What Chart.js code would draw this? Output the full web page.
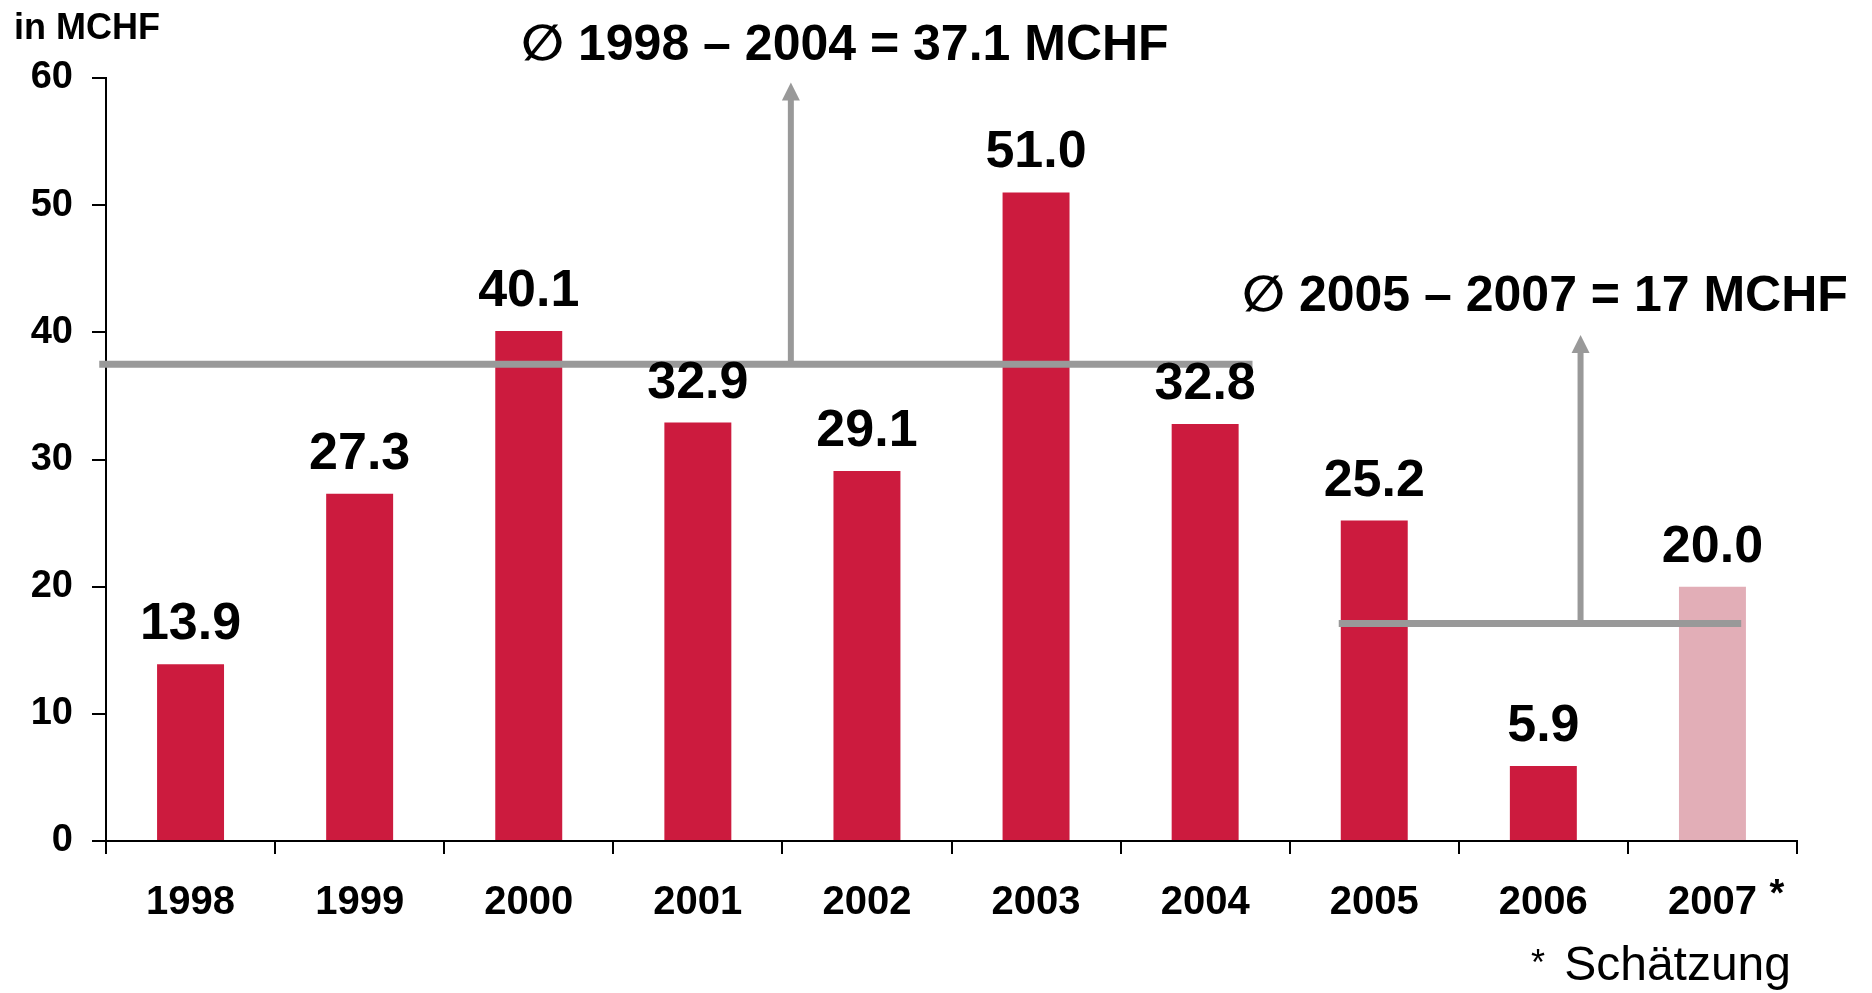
<!DOCTYPE html>
<html>
<head>
<meta charset="utf-8">
<script src="https://cdn.jsdelivr.net/npm/chart.js@4/dist/chart.umd.min.js"></script>
<style>
  html, body { margin: 0; padding: 0; background: #fff; }
  #c { display: block; }
</style>
</head>
<body>
<canvas id="c" width="1872" height="993"></canvas>
<script>
// ---- data ----
const categories = ['1998', '1999', '2000', '2001', '2002', '2003', '2004', '2005', '2006', '2007'];
const values = [13.9, 27.3, 40.1, 32.9, 29.1, 51.0, 32.8, 25.2, 5.9, 20.0];
const estimated = [false, false, false, false, false, false, false, false, false, true];
const yTicks = [0, 10, 20, 30, 40, 50, 60];
const avgLevels = [37.5, 17.1];
const avgLabels = ['\u2205 1998 \u2013 2004 = 37.1 MCHF', '\u2205 2005 \u2013 2007 = 17 MCHF'];
const unitLabel = 'in MCHF';
const footnote = 'Schätzung';

const FONT = '"Liberation Sans", Arial, "DejaVu Sans", sans-serif';
const RED = '#CC1B3E';
const PINK = '#E2AEB7';
const GRAY = '#999999';

// annotation geometry (in category-index / value units)
const avgGeom = [
  { from: -0.54, to: 6.28, arrowAt: 3.55, tip: 59.65, textAt: 3.87, textBase: 61.4 },
  { from: 6.79, to: 9.17, arrowAt: 8.22, tip: 39.8, textAt: 8.01, textBase: 41.7 }
];

const annotPlugin = {
  id: 'annot',
  afterDatasetsDraw(chart) {
    const { ctx, scales: { x, y }, chartArea } = chart;
    ctx.save();

    // average lines + arrows
    avgLevels.forEach((lvl, i) => {
      const g = avgGeom[i];
      const ly = y.getPixelForValue(lvl);
      const ax = x.getPixelForValue(g.arrowAt);
      const tipY = y.getPixelForValue(g.tip);
      ctx.strokeStyle = GRAY;
      ctx.fillStyle = GRAY;
      ctx.lineCap = 'butt';
      ctx.lineWidth = 6;
      ctx.beginPath();
      ctx.moveTo(ax, ly);
      ctx.lineTo(ax, tipY + 17);
      ctx.stroke();
      ctx.beginPath();
      ctx.moveTo(ax, tipY);
      ctx.lineTo(ax - 9, tipY + 18);
      ctx.lineTo(ax + 9, tipY + 18);
      ctx.closePath();
      ctx.fill();
      ctx.lineWidth = 7;
      ctx.beginPath();
      ctx.moveTo(x.getPixelForValue(g.from), ly);
      ctx.lineTo(x.getPixelForValue(g.to), ly);
      ctx.stroke();
      ctx.fillStyle = '#000';
      ctx.font = 'bold 50px ' + FONT;
      ctx.textAlign = 'center';
      ctx.textBaseline = 'alphabetic';
      ctx.fillText(avgLabels[i], x.getPixelForValue(g.textAt), y.getPixelForValue(g.textBase));
    });

    // value labels
    const meta = chart.getDatasetMeta(0);
    ctx.fillStyle = '#000';
    ctx.font = 'bold 52px ' + FONT;
    ctx.textAlign = 'center';
    ctx.textBaseline = 'alphabetic';
    meta.data.forEach((bar, i) => {
      ctx.fillText(values[i].toFixed(1), bar.x, bar.y - 25);
    });

    // unit label
    ctx.font = 'bold 36px ' + FONT;
    ctx.textAlign = 'left';
    ctx.fillText(unitLabel, 14, 39);

    // asterisk on estimated category
    estimated.forEach((e, i) => {
      if (!e) return;
      ctx.font = 'bold 38px ' + FONT;
      ctx.textAlign = 'left';
      ctx.fillText('*', x.getPixelForValue(i) + 57, 906);
    });

    // footnote
    const r = chartArea.right;
    ctx.font = '36px ' + FONT;
    ctx.textAlign = 'left';
    ctx.fillText('*', r - 266, 975);
    ctx.font = '48px ' + FONT;
    ctx.textAlign = 'right';
    ctx.fillText(footnote, r - 6, 980);

    ctx.restore();
  }
};

new Chart(document.getElementById('c'), {
  type: 'bar',
  data: {
    labels: categories,
    datasets: [{
      data: values,
      backgroundColor: estimated.map(e => e ? PINK : RED),
      borderWidth: 0,
      categoryPercentage: 1.0,
      barPercentage: 0.396
    }]
  },
  options: {
    responsive: false,
    animation: false,
    devicePixelRatio: 1,
    layout: { padding: { top: 78, right: 75, bottom: 0, left: 0 } },
    plugins: {
      legend: { display: false },
      tooltip: { enabled: false },
      title: { display: false }
    },
    scales: {
      x: {
        grid: {
          display: true,
          drawOnChartArea: false,
          offset: true,
          tickLength: 13,
          color: '#000',
          lineWidth: 2
        },
        border: { display: true, color: '#000', width: 2 },
        ticks: {
          color: '#000',
          font: { family: FONT, size: 40, weight: 'bold' },
          padding: 25,
          maxRotation: 0,
          autoSkip: false
        },
        afterFit(scale) { scale.height = 152; }
      },
      y: {
        min: 0,
        max: 60,
        afterBuildTicks(scale) { scale.ticks = yTicks.map(v => ({ value: v })); },
        grid: {
          display: true,
          drawOnChartArea: false,
          tickLength: 14,
          color: '#000',
          lineWidth: 2
        },
        border: { display: true, color: '#000', width: 2 },
        ticks: {
          color: '#000',
          font: { family: FONT, size: 38, weight: 'bold' },
          padding: 19
        },
        afterFit(scale) { scale.width = 106; }
      }
    }
  },
  plugins: [annotPlugin]
});
</script>
</body>
</html>
